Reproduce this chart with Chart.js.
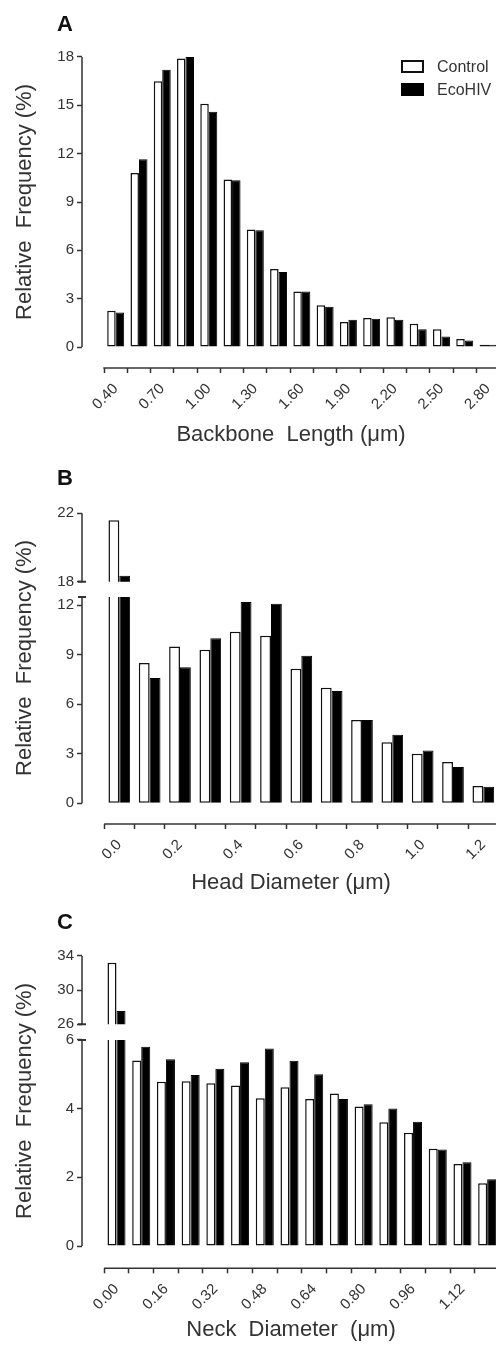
<!DOCTYPE html>
<html>
<head>
<meta charset="utf-8">
<script src="https://cdn.jsdelivr.net/npm/chart.js@4.4.1/dist/chart.umd.min.js"></script>
<style>
  html, body { margin: 0; padding: 0; background: #fff; overflow: hidden; }
  #page { position: relative; width: 496px; height: 1349px; overflow: hidden;
          font-family: "Liberation Sans", Arial, sans-serif; }
  canvas { position: absolute; left: 0; }
  .letter { position: absolute; left: 57px; font-size: 22px; line-height: 22px;
            font-weight: bold; color: #111; z-index: 2; }
  #legend { position: absolute; left: 401px; top: 55px; z-index: 2; }
  .legend-item { display: flex; align-items: center; height: 23px;
                 font-size: 16px; color: #333; }
  .legend-box { display: inline-block; width: 23px; height: 13px;
                box-sizing: border-box; margin-right: 13px; }
</style>
</head>
<body>
<div id="page">
  <canvas id="chartA" width="520" height="450" style="top:0"></canvas>
  <canvas id="chartB" width="520" height="450" style="top:450px"></canvas>
  <canvas id="chartC" width="520" height="449" style="top:900px"></canvas>
  <div class="letter" style="top:13px">A</div>
  <div class="letter" style="top:467px">B</div>
  <div class="letter" style="top:911px">C</div>
  <div id="legend"></div>
</div>
<script>
const seriesNames = ["Control", "EcoHIV"];

// A - backbone length (um), relative frequency (%)
const backboneBins = [0.40, 0.55, 0.70, 0.85, 1.00, 1.15, 1.30, 1.45, 1.60, 1.75, 1.90, 2.05, 2.20, 2.35, 2.50, 2.65, 2.80];
const backboneControl = [2.25, 10.8, 16.5, 17.9, 15.1, 10.4, 7.3, 4.85, 3.45, 2.6, 1.55, 1.8, 1.85, 1.45, 1.1, 0.5, 0.15];
const backboneEcoHIV = [2.15, 11.65, 17.2, 18.0, 14.6, 10.35, 7.25, 4.65, 3.45, 2.5, 1.7, 1.75, 1.7, 1.1, 0.65, 0.4, 0.15];
const backboneTicks = [0, 3, 6, 9, 12, 15, 18];

// B - head diameter (um), broken y axis
const headBins = [0.0, 0.1, 0.2, 0.3, 0.4, 0.5, 0.6, 0.7, 0.8, 0.9, 1.0, 1.1, 1.2];
const headControl = [21.6, 8.5, 9.5, 9.3, 10.4, 10.15, 8.15, 7.0, 5.05, 3.7, 3.0, 2.5, 1.05];
const headEcoHIV = [18.35, 7.6, 8.25, 10.0, 12.2, 12.1, 8.95, 6.8, 5.05, 4.15, 3.2, 2.2, 1.0];
const headTicksLow = [0, 3, 6, 9, 12];
const headTicksHigh = [18, 22];

// C - neck diameter (um), broken y axis
const neckBins = [0.00, 0.08, 0.16, 0.24, 0.32, 0.40, 0.48, 0.56, 0.64, 0.72, 0.80, 0.88, 0.96, 1.04, 1.12, 1.20];
const neckControl = [33.2, 5.4, 4.78, 4.8, 4.74, 4.67, 4.3, 4.62, 4.28, 4.44, 4.06, 3.6, 3.3, 2.83, 2.39, 1.83];
const neckEcoHIV = [27.55, 5.8, 5.44, 4.98, 5.16, 5.35, 5.75, 5.39, 5.0, 4.28, 4.13, 4.0, 3.62, 2.81, 2.44, 1.94];
const neckTicksLow = [0, 2, 4, 6];
const neckTicksHigh = [26, 30, 34];

const FONT = '"Liberation Sans", Arial, sans-serif';
const INK = "#333";
const TICK_SIZE = 15;
const TICK_LEN = 5;

// Prism-style axes: detached x/y lines, y axis split in segments (top to bottom)
const prismAxes = {
  id: "prismAxes",
  beforeDatasetDraw(chart, args, opts) {
    const segs = opts.segments;
    const i = segs.findIndex((s) => s.axis === args.meta.yScale.id);
    const area = chart.chartArea;
    const y = chart.scales[segs[i].axis];
    const top = i === 0 ? area.top : y.getPixelForValue(segs[i].hi);
    const bottom = i === segs.length - 1 ? area.bottom : y.getPixelForValue(segs[i].lo);
    chart.ctx.save();
    chart.ctx.beginPath();
    chart.ctx.rect(area.left, top, area.right - area.left, bottom - top);
    chart.ctx.clip();
  },
  afterDatasetDraw(chart) {
    chart.ctx.restore();
  },
  afterDraw(chart, args, opts) {
    const ctx = chart.ctx;
    const x = chart.scales.x;
    const left = chart.chartArea.left;
    const segs = opts.segments;
    ctx.save();
    ctx.strokeStyle = INK;
    ctx.lineWidth = 1.5;
    ctx.beginPath();
    ctx.moveTo(x.getPixelForValue(opts.xStart), x.top);
    ctx.lineTo(x.right, x.top);
    segs.forEach((s) => {
      const y = chart.scales[s.axis];
      ctx.moveTo(left, y.getPixelForValue(s.hi));
      ctx.lineTo(left, y.getPixelForValue(s.lo));
    });
    ctx.stroke();
    // break marks
    ctx.lineWidth = 2;
    ctx.beginPath();
    segs.forEach((s, i) => {
      const y = chart.scales[s.axis];
      if (i > 0) {
        const p = y.getPixelForValue(s.hi);
        ctx.moveTo(left - 4, p);
        ctx.lineTo(left + 4, p);
      }
      if (i < segs.length - 1) {
        const p = y.getPixelForValue(s.lo);
        ctx.moveTo(left - 4, p);
        ctx.lineTo(left + 4, p);
      }
    });
    ctx.stroke();
    ctx.restore();
  },
};

const measure = document.createElement("canvas").getContext("2d");
measure.font = TICK_SIZE + "px " + FONT;
const widestLabel = (values) => Math.max(...values.map((v) => measure.measureText(String(v)).width));

const toPoints = (bins, values) => bins.map((b, i) => ({ x: b, y: values[i] }));

function barSets(bins, control, ecohiv, axis) {
  return [
    {
      label: seriesNames[0], data: toPoints(bins, control), yAxisID: axis, stack: "control",
      backgroundColor: "#fff", borderColor: "#111", borderWidth: 1.5, borderSkipped: false,
    },
    {
      label: seriesNames[1], data: toPoints(bins, ecohiv), yAxisID: axis, stack: "ecohiv",
      backgroundColor: "#000", borderColor: "#000", borderWidth: 1,
    },
  ];
}

// width 0 = overlay axis sharing the same left edge; its labels are mirrored
// back to the outside so they are not clipped to the empty box
function yAxis(tickValues, min, max, width, weight, title) {
  const overlay = width === 0;
  return {
    type: "linear", position: "left", min, max, weight,
    border: { display: false },
    grid: { drawOnChartArea: false, tickLength: TICK_LEN, tickColor: INK, tickWidth: 1.5 },
    ticks: {
      font: { family: FONT, size: TICK_SIZE }, color: INK,
      mirror: overlay, crossAlign: overlay ? "far" : "near",
      padding: overlay ? -(TICK_LEN + 3 + widestLabel(tickValues)) : 3,
    },
    afterBuildTicks: (s) => { s.ticks = tickValues.map((v) => ({ value: v })); },
    afterFit: (s) => { s.width = width; },
    title: {
      display: !!title, text: title, color: INK,
      font: { family: FONT, size: 22 }, padding: { top: 12, bottom: 0 },
    },
  };
}

function xAxis(bins, min, max, decimals, height, title, titlePad) {
  return {
    type: "linear", min, max, offset: false,
    border: { display: false },
    grid: { drawOnChartArea: false, tickLength: TICK_LEN, tickColor: INK, tickWidth: 1.5 },
    ticks: {
      autoSkip: false, minRotation: 45, maxRotation: 45, padding: 7,
      font: { family: FONT, size: TICK_SIZE }, color: INK,
      callback: (v, i) => (i % 2 ? "" : Number(v).toFixed(decimals)),
    },
    afterBuildTicks: (s) => { s.ticks = bins.map((v) => ({ value: v })); },
    afterFit: (s) => { s.height = height; },
    title: {
      display: true, text: title, color: INK,
      font: { family: FONT, size: 22 }, padding: { top: 0, bottom: titlePad },
    },
  };
}

function baseOptions(padTop, scales, prism, catPct) {
  return {
    responsive: false, animation: false, devicePixelRatio: 1, events: [],
    layout: { padding: { top: padTop, right: 20, bottom: 0, left: 0 } },
    datasets: { bar: { categoryPercentage: catPct, barPercentage: 1 } },
    plugins: { legend: { display: false }, tooltip: { enabled: false }, prismAxes: prism },
    scales,
  };
}

const yTitle = "Relative  Frequency (%)";

const chartA = new Chart(document.getElementById("chartA"), {
  type: "bar",
  data: { datasets: barSets(backboneBins, backboneControl, backboneEcoHIV, "y") },
  options: baseOptions(36, {
    x: xAxis(backboneBins, 0.1828, 2.8773, 2, 82, "Backbone  Length (\u03bcm)", 2),
    y: yAxis(backboneTicks, -1.3, 19.3, 82, 1, yTitle),
  }, { xStart: 0.32, segments: [{ axis: "y", lo: 0, hi: 18 }] }, 0.73),
  plugins: [prismAxes],
});

new Chart(document.getElementById("chartB"), {
  type: "bar",
  data: {
    datasets: barSets(headBins, headControl, headEcoHIV, "yLow")
      .concat(barSets(headBins, headControl, headEcoHIV, "yUp")),
  },
  options: baseOptions(42, {
    x: xAxis(headBins, -0.123, 1.255, 1, 76, "Head Diameter (\u03bcm)", 4),
    yUp: yAxis(headTicksHigh, 3.83, 23.246, 0, 0, ""),
    yLow: yAxis(headTicksLow, -1.2545, 18.867, 82, 1, yTitle),
  }, {
    xStart: -0.05,
    segments: [{ axis: "yUp", lo: 18, hi: 22 }, { axis: "yLow", lo: 0, hi: 12.5 }],
  }, 0.715),
  plugins: [prismAxes],
});

new Chart(document.getElementById("chartC"), {
  type: "bar",
  data: {
    datasets: barSets(neckBins, neckControl, neckEcoHIV, "yLow")
      .concat(barSets(neckBins, neckControl, neckEcoHIV, "yUp")),
  },
  options: baseOptions(33.7, {
    x: xAxis(neckBins, -0.1117, 1.2415, 2, 80.7, "Neck  Diameter  (\u03bcm)", 6),
    yUp: yAxis(neckTicksHigh, -2.57, 36.61, 0, 0, ""),
    yLow: yAxis(neckTicksLow, -0.649, 9.092, 82, 1, yTitle),
  }, {
    xStart: -0.04,
    segments: [{ axis: "yUp", lo: 26, hi: 34 }, { axis: "yLow", lo: 0, hi: 6 }],
  }, 0.73),
  plugins: [prismAxes],
});

// legend built from the chart's own legend items
const legendEl = document.getElementById("legend");
chartA.options.plugins.legend.labels.generateLabels(chartA).forEach((item) => {
  const row = document.createElement("div");
  row.className = "legend-item";
  const box = document.createElement("span");
  box.className = "legend-box";
  box.style.background = item.fillStyle;
  box.style.border = "2px solid " + item.strokeStyle;
  const text = document.createElement("span");
  text.textContent = item.text;
  row.append(box, text);
  legendEl.append(row);
});
</script>
</body>
</html>
